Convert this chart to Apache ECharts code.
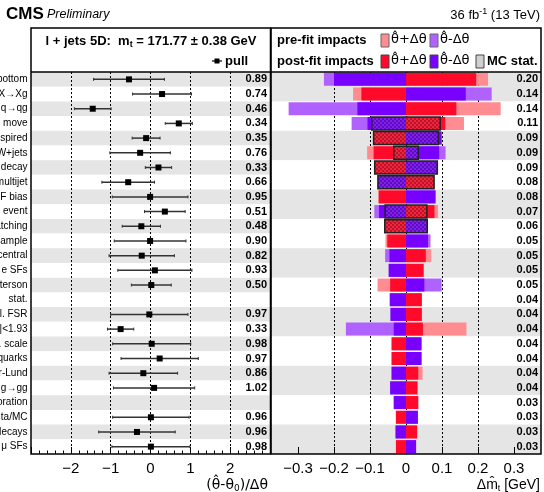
<!DOCTYPE html>
<html><head><meta charset="utf-8">
<script src="https://cdn.jsdelivr.net/npm/echarts@6/dist/echarts.min.js"></script>
<style>html,body{margin:0;padding:0;background:#fff}#c{width:544px;height:492px}</style>
</head><body><div id="c"></div>
<script>
const labels = ['bottom','X\u2192Xg','q\u2192qg','move','spired','W+jets','decay','multijet','F bias','event','atching','ample','central','e SFs','terson','stat.','l. FSR','|<1.93','. scale','quarks','r-Lund','g\u2192gg','oration','ta/MC','decays','\u03bc SFs'];
const pulls = [-0.54,0.29,-1.45,0.71,-0.11,-0.26,0.20,-0.56,-0.01,0.36,-0.23,-0.01,-0.22,0.11,0.02,null,-0.03,-0.75,0.03,0.23,-0.18,0.09,null,0.01,-0.34,0.01];
const constraints = [0.89,0.74,0.46,0.34,0.35,0.76,0.33,0.66,0.95,0.51,0.48,0.90,0.82,0.93,0.50,null,0.97,0.33,0.98,0.97,0.86,1.02,null,0.96,0.96,0.98];
const impacts = [0.20,0.14,0.14,0.11,0.09,0.09,0.09,0.08,0.08,0.07,0.06,0.05,0.05,0.05,0.05,0.04,0.04,0.04,0.04,0.04,0.04,0.04,0.03,0.03,0.03,0.03];
const prefitPlus  = [0.228,-0.147,0.263,0.161,-0.090,-0.108,-0.087,0.078,-0.076,0.089,-0.059,-0.057,0.070,0.049,-0.079,0.044,0.044,0.168,-0.040,-0.040,0.046,0.032,0.034,-0.028,0.031,-0.028];
const prefitMinus = [-0.228,0.238,-0.326,-0.151,0.100,0.110,0.088,-0.078,0.082,-0.088,0.059,0.068,-0.058,-0.048,0.099,-0.045,-0.043,-0.167,0.043,0.043,-0.040,-0.044,-0.034,0.033,-0.029,0.028];
const postfitPlus  = [0.195,-0.124,0.140,0.109,-0.090,-0.090,-0.087,0.078,-0.076,0.079,-0.059,-0.052,0.055,0.049,-0.044,0.044,0.044,0.047,-0.040,-0.040,0.034,0.032,0.034,-0.028,0.031,-0.028];
const postfitMinus = [-0.200,0.166,-0.135,-0.107,0.098,0.092,0.088,-0.078,0.082,-0.075,0.059,0.061,-0.046,-0.048,0.051,-0.045,-0.043,-0.034,0.043,0.043,-0.040,-0.044,-0.034,0.033,-0.029,0.028];
const mcStat = [null,null,null,0.095,0.090,0.034,0.087,0.078,null,0.058,0.059,null,null,null,null,null,null,null,null,null,null,null,null,null,null,null];
const pullTicks = [-2,-1,0,1,2];
const impactTicks = [-0.3,-0.2,-0.1,0,0.1,0.2,0.3];

const FONT = 'Liberation Sans';
const C_RED = '#ff0a2a', C_PUR = '#7800ff', C_LRED = '#ff8c90', C_LPUR = '#b062ff';

const pc = document.createElement('canvas'); pc.width = 4; pc.height = 4;
const pctx = pc.getContext('2d');
pctx.fillStyle = 'rgba(40,40,40,0.30)';
pctx.fillRect(0,0,2,2); pctx.fillRect(2,2,2,2);
pctx.fillStyle = 'rgba(160,160,160,0.20)';
pctx.fillRect(2,0,2,2); pctx.fillRect(0,2,2,2);
const hatch = {image: pc, repeat: 'repeat'};

const chart = echarts.init(document.getElementById('c'), null, {renderer:'canvas'});
const minus = v => (v < 0 ? '\u2212' : '') ;

const errData = [];
pulls.forEach((p,i)=>{ if(p!=null) errData.push([i, p-constraints[i], p+constraints[i], p]); });
const mcData = [];
mcStat.forEach((a,i)=>{ if(a!=null) mcData.push([i, a]); });

const barCommon = (name, data, color) => ({
  type:'bar', name, xAxisIndex:1, yAxisIndex:2, data, barWidth:13, barGap:'-100%',
  itemStyle:{color}, silent:true
});

chart.setOption({
  animation:false,
  textStyle:{fontFamily:FONT},
  grid:[
    {left:31, top:72, width:239, height:382, show:false, containLabel:false, outerBoundsMode:'none'},
    {left:271, top:72, width:270, height:382, show:false, containLabel:false, outerBoundsMode:'none'}
  ],
  xAxis:[
    {gridIndex:0, type:'value', min:-3, max:3, interval:1,
     axisLine:{show:false},
     axisTick:{show:true, inside:true, length:7, lineStyle:{color:'#000'}},
     minorTick:{show:true, splitNumber:5, length:3.5, lineStyle:{color:'#000'}},
     axisLabel:{customValues:pullTicks, margin:7, fontSize:15, color:'#000', fontFamily:FONT,
       formatter:v=> minus(v)+Math.abs(v)},
     splitLine:{show:true, showMinLine:false, showMaxLine:false, lineStyle:{color:'#000', type:[2,2], width:1}}},
    {gridIndex:1, type:'value', min:-0.375, max:0.375,
     axisLine:{show:false},
     axisTick:{show:true, inside:true, length:7, customValues:impactTicks, lineStyle:{color:'#000'}},
     axisLabel:{customValues:impactTicks, margin:7, fontSize:15, color:'#000', fontFamily:FONT,
       formatter:v=> Math.abs(v)<1e-9 ? '0' : minus(v)+Math.abs(v).toFixed(1)},
     splitLine:{show:true, showMinLine:false, showMaxLine:false, lineStyle:{color:'#000', type:[2,2], width:1}}}
  ],
  yAxis:[
    {gridIndex:0, type:'category', data:labels, inverse:true, position:'left',
     axisLine:{show:false}, axisTick:{show:false},
     axisLabel:{interval:0, margin:3.5, fontSize:10, color:'#000', fontFamily:FONT},
     splitLine:{show:false},
     splitArea:{show:true, areaStyle:{color:['#e5e5e5','#ffffff']}}},
    {gridIndex:0, type:'category', data:labels, inverse:true, position:'right',
     axisLine:{show:false}, axisTick:{show:false},
     axisLabel:{interval:0, inside:true, margin:3, fontSize:11, fontWeight:'bold', color:'#000', fontFamily:FONT,
       formatter:(v,i)=> constraints[i]==null ? '' : constraints[i].toFixed(2)}},
    {gridIndex:1, type:'category', data:labels, inverse:true, position:'left',
     axisLine:{show:false}, axisTick:{show:false}, axisLabel:{show:false},
     splitLine:{show:false},
     splitArea:{show:true, areaStyle:{color:['#e5e5e5','#ffffff']}}},
    {gridIndex:1, type:'category', data:labels, inverse:true, position:'right',
     axisLine:{show:false}, axisTick:{show:false},
     axisLabel:{interval:0, inside:true, margin:3, fontSize:11, fontWeight:'bold', color:'#000', fontFamily:FONT,
       formatter:(v,i)=> impacts[i].toFixed(2)}}
  ],
  series:[
    barCommon('prefit+', prefitPlus, C_LRED),
    barCommon('prefit-', prefitMinus, C_LPUR),
    barCommon('postfit+', postfitPlus, C_RED),
    barCommon('postfit-', postfitMinus, C_PUR),
    {type:'custom', name:'MC stat', xAxisIndex:1, yAxisIndex:2, data:mcData, z:5, silent:true,
     encode:{x:1, y:0},
     renderItem:(params, api)=>{
       const i = api.value(0), a = api.value(1);
       const p1 = api.coord([-a, i]), p2 = api.coord([a, i]);
       const h = 13;
       return {type:'group', children:[
         {type:'rect', shape:{x:p1[0], y:p1[1]-h/2, width:p2[0]-p1[0], height:h},
          style:{fill:hatch, stroke:'#222', lineWidth:1.5}}
       ]};
     }},
    {type:'custom', name:'pull', xAxisIndex:0, yAxisIndex:0, data:errData, z:5, silent:true,
     encode:{x:[1,2,3], y:0},
     renderItem:(params, api)=>{
       const i = api.value(0);
       const lo = api.coord([api.value(1), i]), hi = api.coord([api.value(2), i]), c = api.coord([api.value(3), i]);
       const st = {stroke:'#333', lineWidth:1.5};
       return {type:'group', children:[
         {type:'line', shape:{x1:lo[0], y1:lo[1], x2:hi[0], y2:hi[1]}, style:st},
         {type:'line', shape:{x1:lo[0], y1:lo[1]-1.5, x2:lo[0], y2:lo[1]+1.5}, style:{stroke:'#333', lineWidth:1}},
         {type:'line', shape:{x1:hi[0], y1:hi[1]-1.5, x2:hi[0], y2:hi[1]+1.5}, style:{stroke:'#333', lineWidth:1}},
         {type:'rect', shape:{x:c[0]-3, y:c[1]-3, width:6, height:6}, style:{fill:'#000'}}
       ]};
     }}
  ],
  graphic:[
    {type:'rect', z:100, shape:{x:31, y:28, width:239.5, height:426}, style:{fill:'none', stroke:'#000', lineWidth:1.5}},
    {type:'rect', z:100, shape:{x:271, y:28, width:270, height:426}, style:{fill:'none', stroke:'#000', lineWidth:1.5}},
    {type:'line', z:100, shape:{x1:31, y1:72, x2:541, y2:72}, style:{stroke:'#000', lineWidth:1.5}},
    {type:'text', z:100, x:6, y:14, style:{text:'CMS', font:'bold 17px "Liberation Sans"', fill:'#000', verticalAlign:'middle'}},
    {type:'text', z:100, x:47, y:15, style:{text:'Preliminary', font:'italic 12.5px "Liberation Sans"', fill:'#000', verticalAlign:'middle'}},
    {type:'text', z:100, x:540, y:15, style:{text:'36 fb{sup|-1} (13 TeV)', align:'right', verticalAlign:'middle',
      font:'13px "Liberation Sans"', fill:'#000', rich:{sup:{fontSize:9, verticalAlign:'top', padding:[0,0,7,0], fontFamily:FONT}}}},
    {type:'text', z:100, x:151, y:41, style:{text:'l + jets 5D:  m{sub|t} = 171.77 ± 0.38 GeV', align:'center', verticalAlign:'middle',
      font:'bold 13px "Liberation Sans"', fill:'#000', rich:{sub:{fontSize:9, fontWeight:'bold', padding:[7,0,0,0], fontFamily:FONT}}}},
    {type:'line', z:100, shape:{x1:212, y1:61, x2:222, y2:61}, style:{stroke:'#333', lineWidth:1.5}},
    {type:'rect', z:100, shape:{x:214.5, y:58.5, width:5, height:5}, style:{fill:'#000'}},
    {type:'text', z:100, x:225, y:61, style:{text:'pull', font:'bold 13px "Liberation Sans"', fill:'#000', verticalAlign:'middle'}},
    {type:'text', z:100, x:277, y:40, style:{text:'pre-fit impacts', font:'bold 13px "Liberation Sans"', fill:'#000', verticalAlign:'middle'}},
    {type:'rect', z:100, shape:{x:381, y:34, width:8, height:13}, style:{fill:C_LRED, stroke:'#666', lineWidth:1}},
    {type:'text', z:100, x:391, y:40, style:{text:'\u03b8\u0302+\u0394\u03b8', font:'13px "DejaVu Sans"', fill:'#000', verticalAlign:'middle'}},
    {type:'rect', z:100, shape:{x:430, y:34, width:8, height:13}, style:{fill:C_LPUR, stroke:'#666', lineWidth:1}},
    {type:'text', z:100, x:440, y:40, style:{text:'\u03b8\u0302-\u0394\u03b8', font:'13px "DejaVu Sans"', fill:'#000', verticalAlign:'middle'}},
    {type:'text', z:100, x:277, y:61, style:{text:'post-fit impacts', font:'bold 13px "Liberation Sans"', fill:'#000', verticalAlign:'middle'}},
    {type:'rect', z:100, shape:{x:381, y:55, width:8, height:13}, style:{fill:C_RED, stroke:'#444', lineWidth:1}},
    {type:'text', z:100, x:391, y:61, style:{text:'\u03b8\u0302+\u0394\u03b8', font:'13px "DejaVu Sans"', fill:'#000', verticalAlign:'middle'}},
    {type:'rect', z:100, shape:{x:430, y:55, width:8, height:13}, style:{fill:C_PUR, stroke:'#444', lineWidth:1}},
    {type:'text', z:100, x:440, y:61, style:{text:'\u03b8\u0302-\u0394\u03b8', font:'13px "DejaVu Sans"', fill:'#000', verticalAlign:'middle'}},
    {type:'rect', z:100, shape:{x:476, y:55, width:8, height:13}, style:{fill:'#d0d0d0', stroke:'#444', lineWidth:1}},
    {type:'text', z:100, x:487, y:61, style:{text:'MC stat.', font:'bold 13px "Liberation Sans"', fill:'#000', verticalAlign:'middle'}},
    {type:'text', z:100, x:268, y:485, style:{text:'(\u03b8\u0302-\u03b8{sub|0})/\u0394\u03b8', align:'right', verticalAlign:'middle',
      font:'14px "DejaVu Sans"', fill:'#000', rich:{sub:{fontSize:9, padding:[8,0,0,0], fontFamily:'DejaVu Sans'}}}},
    {type:'text', z:100, x:540, y:485, style:{text:'\u0394m\u0302{sub|t} [GeV]', align:'right', verticalAlign:'middle',
      font:'14px "Liberation Sans"', fill:'#000', rich:{sub:{fontSize:9, padding:[8,0,0,0], fontFamily:FONT}}}}
  ]
});
</script></body></html>
